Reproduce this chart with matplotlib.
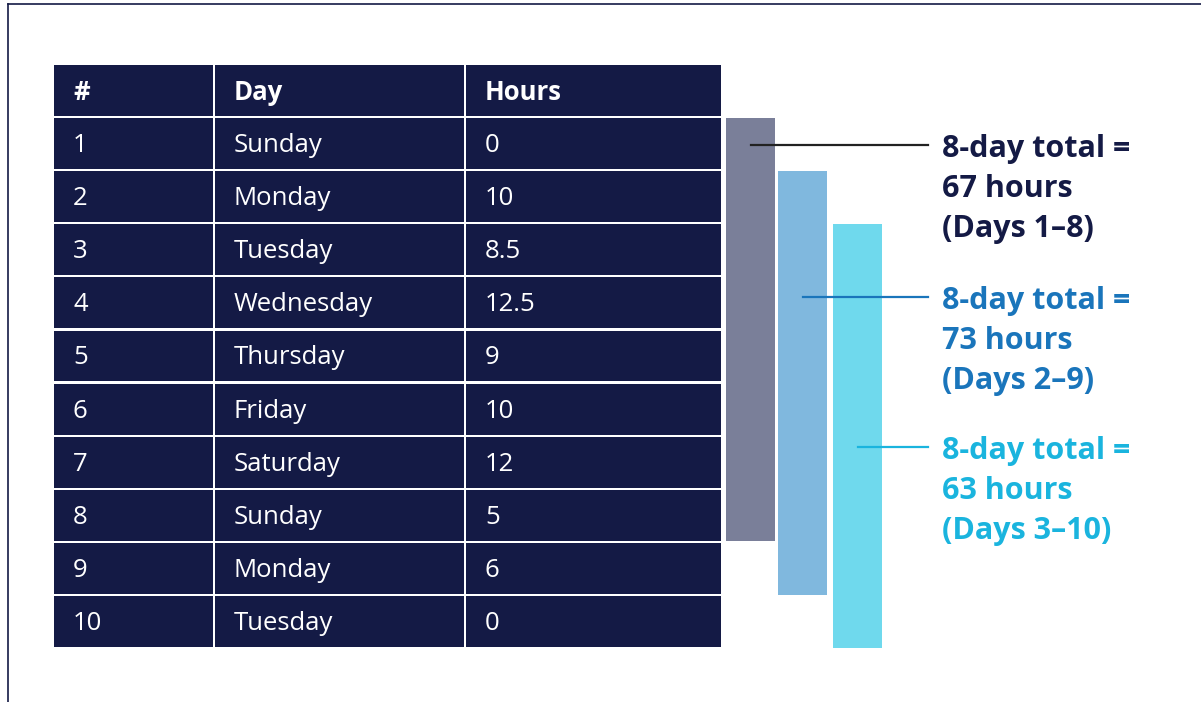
import matplotlib.pyplot as plt
from matplotlib.patches import Rectangle

days = ["Sunday", "Monday", "Tuesday", "Wednesday", "Thursday",
        "Friday", "Saturday", "Sunday", "Monday", "Tuesday"]
hours = [0, 10, 8.5, 12.5, 9, 10, 12, 5, 6, 0]
headers = ["#", "Day", "Hours"]

# 8-day windows (first day, last day), 1-based
windows = [(1, 8), (2, 9), (3, 10)]
window_colors = ["#7a7f99", "#80b8de", "#6fd9ed"]
text_colors = ["#141a45", "#1a75bb", "#1ab4de"]
line_colors = ["#222222", "#1a75bb", "#1ab4de"]

navy = "#141a45"

fig = plt.figure(figsize=(12.01, 7.02), dpi=100)
ax = fig.add_axes([0, 0, 1, 1])
ax.set_xlim(0, 1201)
ax.set_ylim(702, 0)
ax.axis("off")

# frame lines (top and left)
ax.plot([7.5, 1201], [4, 4], color=navy, lw=1.2)
ax.plot([7.5, 7.5], [4, 702], color=navy, lw=1.2)

# table layout
col_x = [54, 215, 466, 721]
top = 65
pitch = 53.1
gap = 2.2

def row_top(r):
    return top + r * pitch

rows = [headers] + [[str(i + 1), d, f"{h:g}"] for i, (d, h) in enumerate(zip(days, hours))]
for r, row in enumerate(rows):
    y0 = row_top(r)
    for c, txt in enumerate(row):
        x0 = col_x[c]
        w = col_x[c + 1] - x0 - (gap if c < 2 else 0)
        ax.add_patch(Rectangle((x0, y0), w, pitch - gap, color=navy, lw=0))
        ax.text(x0 + 19, y0 + (pitch - gap) / 2 + 2, txt, color="white",
                fontsize=18.5, fontweight="bold" if r == 0 else "normal",
                family="Open Sans", va="center", ha="left")

# window bars
bar_x = [726, 778, 833]
bar_w = 48.5
line_y = [145, 297, 447]
for k, (a, b) in enumerate(windows):
    y0 = row_top(a)
    y1 = row_top(b + 1) - 1.5
    ax.add_patch(Rectangle((bar_x[k], y0), bar_w, y1 - y0, color=window_colors[k], lw=0))
    total = sum(hours[a - 1:b])
    ax.plot([bar_x[k] + 25, 928], [line_y[k], line_y[k]], color=line_colors[k], lw=1.6)
    lines = ["8-day total =", f"{total:g} hours", f"(Days {a}\u2013{b})"]
    for j, s in enumerate(lines):
        ax.text(942, line_y[k] + 4 + j * 40, s, color=text_colors[k], fontsize=22,
                fontweight="bold", family="Open Sans", va="center", ha="left")

fig.savefig("out.png", dpi=100)
